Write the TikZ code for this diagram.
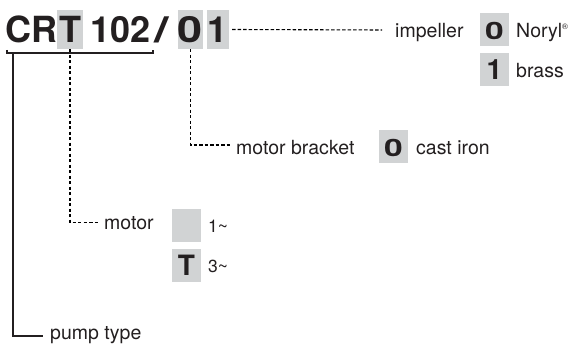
\documentclass[tikz,border=0pt]{standalone}
\usepackage{fontspec}
\setmainfont{TeX Gyre Heros}
\usetikzlibrary{positioning}
\definecolor{boxgray}{RGB}{209,211,212}
\definecolor{inkblack}{RGB}{35,31,32}
\newcommand{\codezero}{\scalebox{1.25}[1]{0}}
\newcommand{\optzero}{\scalebox{1.2}[0.85]{0}}
\tikzset{codefont/.style={font=\bfseries\fontsize{36}{36}\selectfont, text=inkblack},
    codeglyph/.style={codefont, inner sep=0pt, text height=27pt, text depth=0pt},
    codebox/.style={codeglyph, fill=boxgray, minimum height=39pt},
    optbox/.style={fill=boxgray, inner sep=0pt, minimum width=29pt, minimum height=33pt,
        font=\bfseries\fontsize{28}{28}\selectfont, text=inkblack, text height=20pt, text depth=0pt},
    lbl/.style={font=\fontsize{19.5}{19.5}\selectfont, text=inkblack, inner sep=0pt,
        text height=15pt, text depth=0pt, anchor=west},
    small/.style={lbl, font=\fontsize{17.5}{17.5}\selectfont},
    leader/.style={draw=black, line width=1.1pt, dash pattern={on 3.3pt off 2.2pt}},
    bracketline/.style={draw=inkblack, line width=1.2pt}}

\begin{document}
\begin{tikzpicture}[x=1pt,y=1pt,yscale=-1,xscale=1]
\useasboundingbox (0,0) rectangle (568,347);

%Type code
\node[codeglyph, anchor=west] (cr) at (5,29.5) {CR};
\node[codebox, minimum width=26pt] (tee) at (70,29.5) {T};
\node[codeglyph, anchor=west] (num) at (90,29.5) {102};
\node[codeglyph] (slash) at (162,29.5) {\scalebox{1.45}[1]{/}};
\node[codebox, minimum width=25pt] (zero) at (190.5,29.5) {\codezero};
\node[codebox, minimum width=22pt] (one) at (218,29.5) {1};

%Impeller
\node[lbl] (impeller) at (395,30) {impeller};
\node[optbox] (impnoryl) at (494.5,29.5) {\optzero};
\node[lbl] (noryl) at (516,30) {Noryl\textsuperscript{\fontsize{8}{8}\selectfont ®}};
\node[optbox] (impbrass) at (494.5,69.5) {1};
\node[lbl] (brass) at (516,70) {brass};

%Motor bracket
\node[lbl] (bracket) at (236,147.5) {motor bracket};
\node[optbox] (brkiron) at (393.5,147) {\optzero};
\node[lbl] (castiron) at (416,147.5) {cast iron};

%Motor
\node[lbl] (motor) at (104,222.5) {motor};
\node[optbox] (motsingle) at (186.5,225.5) {};
\node[small] (single) at (208,225) {1\textasciitilde};
\node[optbox] (motthree) at (186.5,265.5) {T};
\node[small] (three) at (208,265) {3\textasciitilde};

%Pump type
\node[lbl] (pump) at (50,332.5) {pump type};

%Bracket under pump type
\coordinate (brkleft) at (7,50);
\coordinate (brkright) at (153,50);
\coordinate (brkfoot) at (13,53);
\draw[bracketline] (brkleft) -- ++(0,3) -- ([yshift=3pt]brkright) -- (brkright);
\draw[bracketline] (brkfoot) |- ([shift={(-7pt,3.5pt)}]pump.west);

%Leader lines
\draw[leader] ([xshift=3pt]one.east) -- ([xshift=-13pt]impeller.west);
\draw[leader] (zero.south) |- ([shift={(-6pt,-2.5pt)}]bracket.west);
\draw[leader] (tee.south) |- ([xshift=-4pt]motor.west);

\end{tikzpicture}
\end{document}
